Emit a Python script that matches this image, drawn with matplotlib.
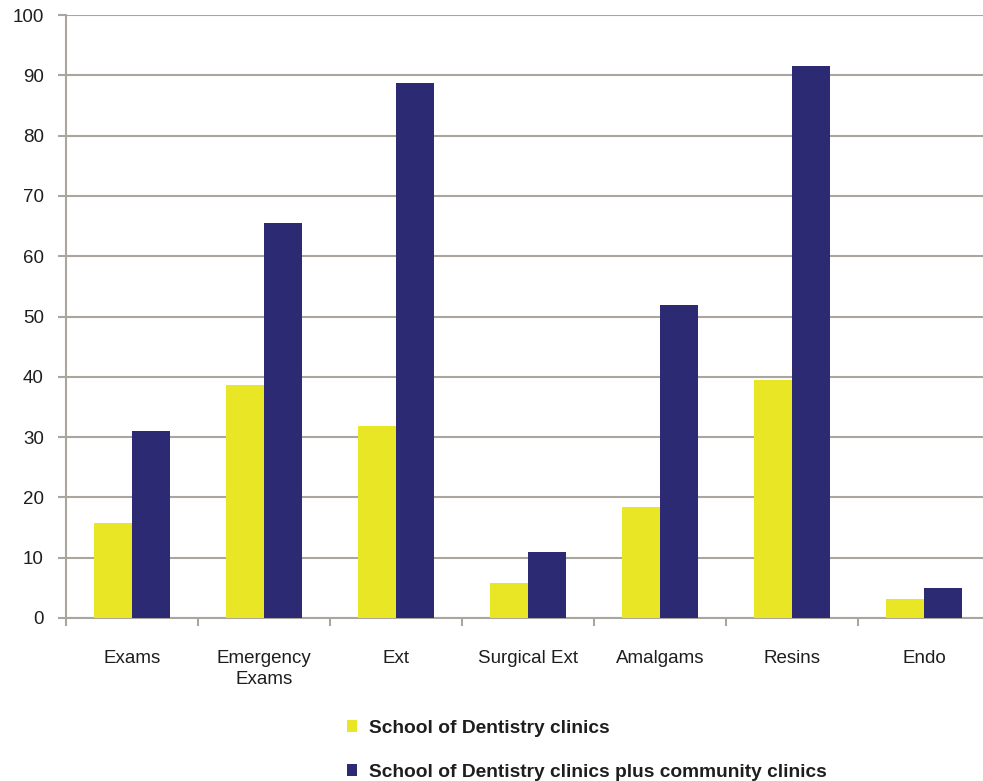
import matplotlib
matplotlib.use("Agg")
import matplotlib.pyplot as plt
import numpy as np
from matplotlib.patches import Patch

categories = ["Exams", "Emergency\nExams", "Ext", "Surgical Ext", "Amalgams", "Resins", "Endo"]
school = [15.8, 38.6, 31.8, 5.8, 18.4, 39.5, 3.2]
school_plus = [31.0, 65.5, 88.7, 10.9, 51.9, 91.5, 5.0]
series_names = ["School of Dentistry clinics", "School of Dentistry clinics plus community clinics"]
yticks = list(range(0, 101, 10))

plt.rcParams['font.family'] = ['Liberation Sans', 'DejaVu Sans']

W, H = 983, 781
fig = plt.figure(figsize=(W / 100, H / 100), dpi=100)
left, right_px = 66, 66 + 7 * 132
top, bottom = 15, 618
ax = fig.add_axes([left / W, (H - bottom) / H, (right_px - left) / W, (bottom - top) / H])

x = np.arange(len(categories))
bw = 0.288
yellow = "#e8e625"
blue = "#2b2a72"
grid_c = "#aaa59f"
txt_c = "#1e1e1e"

ax.bar(x - bw / 2, school, bw, color=yellow, zorder=3, label=series_names[0])
ax.bar(x + bw / 2, school_plus, bw, color=blue, zorder=3, label=series_names[1])

ax.set_xlim(-0.5, len(categories) - 0.5)
ax.set_ylim(0, 100)
ax.set_yticks(yticks)
ax.set_yticklabels([str(v) for v in yticks], fontsize=13.5, color=txt_c)
ax.yaxis.grid(True, color=grid_c, linewidth=1.5, zorder=0)
ax.set_axisbelow(True)

ax.set_xticks(x)
ax.set_xticklabels(categories, fontsize=13.5, color=txt_c, linespacing=1.35)
ax.set_xticks(np.arange(len(categories) + 1) - 0.5, minor=True)
ax.tick_params(axis='x', which='major', length=0, pad=23)
ax.tick_params(axis='x', which='minor', length=6, width=1.5, color=grid_c, direction='out')
ax.tick_params(axis='y', length=6, width=1.5, color=grid_c, pad=10)

for s in ["top", "right"]:
    ax.spines[s].set_visible(False)
for s in ["left", "bottom"]:
    ax.spines[s].set_color(grid_c)
    ax.spines[s].set_linewidth(1.5)

handles = [Patch(facecolor=yellow), Patch(facecolor=blue)]
leg = fig.legend(handles, series_names, loc="upper left", bbox_to_anchor=(339 / W, 1 - 712 / H),
                 frameon=False, prop={'weight': 'bold', 'size': 13.75}, handlelength=0.55,
                 handleheight=0.55, handletextpad=0.6, labelspacing=1.42, borderaxespad=0)
for t in leg.get_texts():
    t.set_color(txt_c)

fig.savefig("out.png", dpi=100)
